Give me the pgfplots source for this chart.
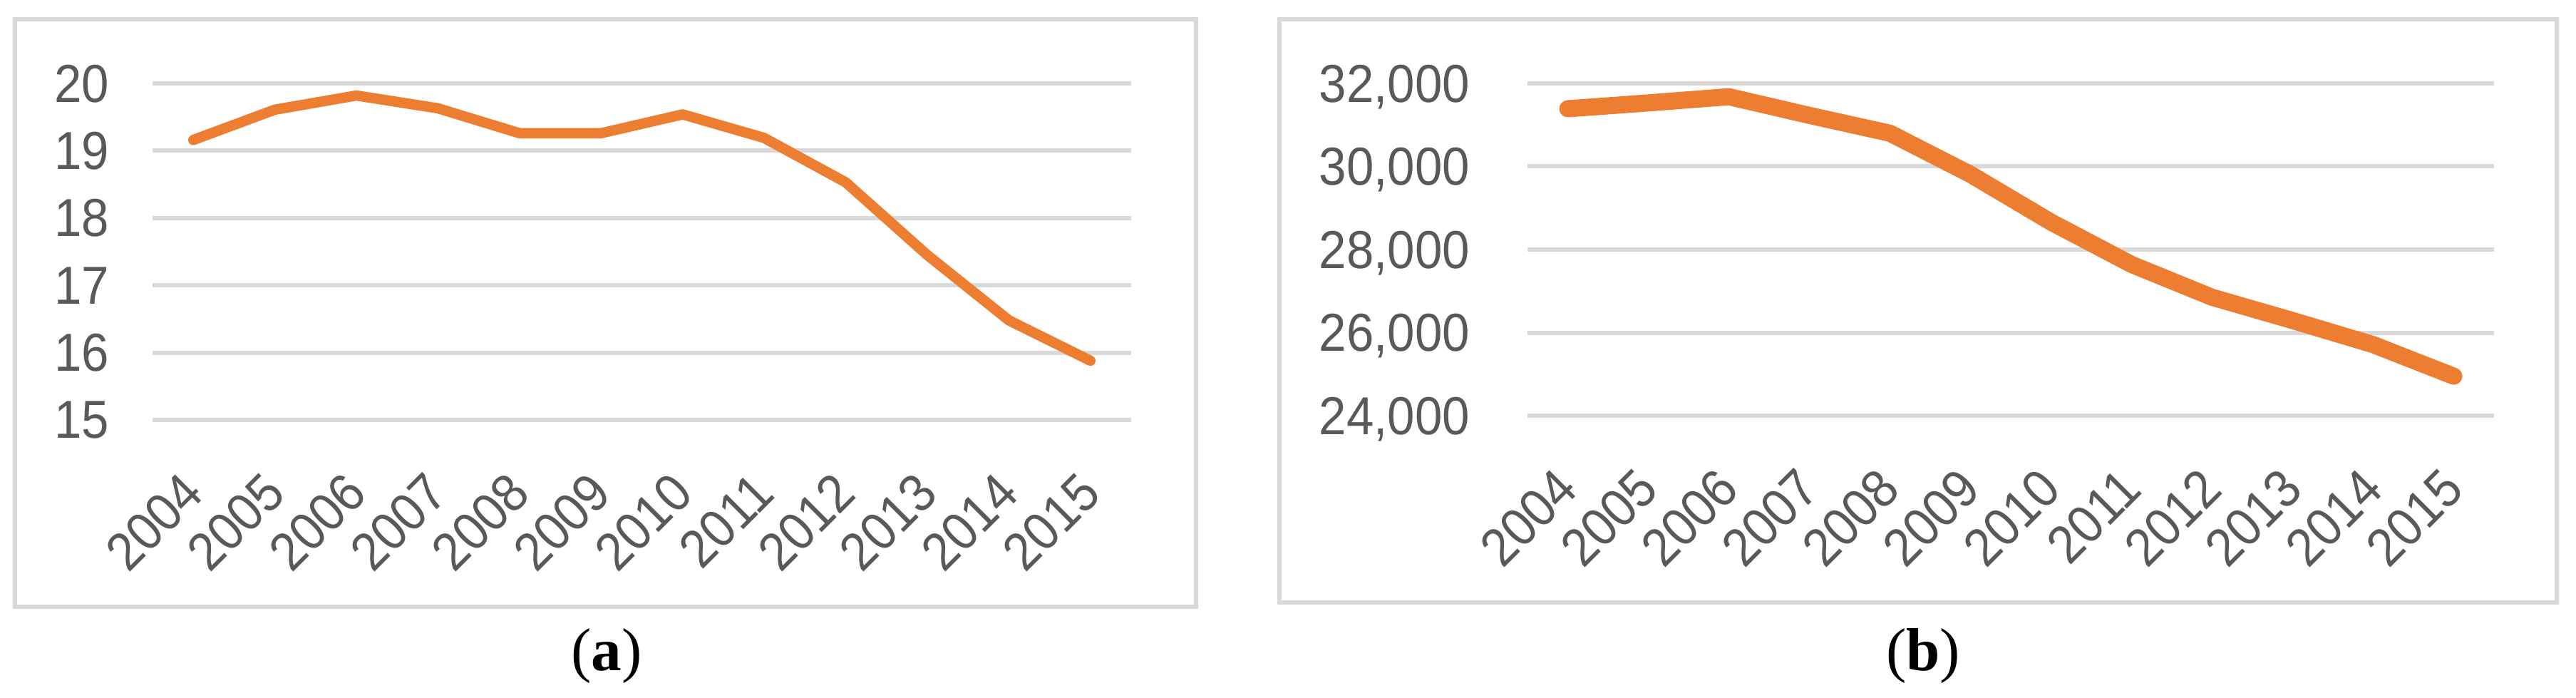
\documentclass[border=0pt]{standalone}
\usepackage{fontspec}
\setmainfont{Liberation Sans}
\newfontfamily\tickfont{Liberation Sans}[FakeStretch=0.92]
\newfontfamily\capfont{Liberation Serif}
\usepackage{pgfplots}
\pgfplotsset{compat=1.18}
\definecolor{lineor}{HTML}{ED7D31}
\definecolor{gridg}{HTML}{D9D9D9}
\definecolor{tickg}{HTML}{595959}
\pgfplotsset{
  refstyle/.style={
    scale only axis,
    anchor=south west,
    xmin=-0.5, xmax=11.5,
    xtick={0,...,11},
    xticklabels={2004,2005,2006,2007,2008,2009,2010,2011,2012,2013,2014,2015},
    axis line style={draw=none},
    major tick length=0pt,
    ymajorgrids,
    grid style={line width=1.2pt, gridg},
    clip=false,
    scaled y ticks=false,
    /pgf/number format/assume math mode=true,
    /pgf/number format/fixed,
    /pgf/number format/precision=0,
    /pgf/number format/1000 sep={,},
    tick label style={font=\tickfont\fontsize{15}{15}\selectfont, text=tickg},
    xticklabel style={inner sep=0pt, rotate=45, anchor=east},
    xticklabel shift=17.6pt,
    yticklabel style={inner sep=0pt, anchor=east, text depth=0pt},
  }
}
\begin{document}
\begin{tikzpicture}
\useasboundingbox (0,0) rectangle (722.8pt,195.6pt);
\draw[gridg, line width=1.1pt] (4.2pt,190.2pt) rectangle (335.6pt,25.4pt);
\draw[gridg, line width=1.1pt] (359pt,190.2pt) rectangle (717.4pt,26.6pt);
\begin{axis}[refstyle, at={(42.8pt,77.8pt)}, width=274.6pt, height=94.4pt,
  ymin=15, ymax=20, ytick={15,16,17,18,19,20}, yticklabel shift=12pt]
\addplot[lineor, line width=2.9pt, line cap=round, line join=round] coordinates {
(0,19.16) (1,19.61) (2,19.82) (3,19.63) (4,19.26) (5,19.26)
(6,19.54) (7,19.19) (8,18.53) (9,17.45) (10,16.48) (11,15.88)};
\end{axis}
\begin{axis}[refstyle, at={(428.6pt,79.0pt)}, width=271.2pt, height=93.2pt,
  ymin=24000, ymax=32000, ytick={24000,26000,28000,30000,32000}, yticklabel shift=16pt]
\addplot[lineor, line width=4.8pt, line cap=round, line join=round] coordinates {
(0,31390) (1,31530) (2,31680) (3,31230) (4,30800) (5,29810)
(6,28660) (7,27640) (8,26850) (9,26290) (10,25710) (11,24950)};
\end{axis}
\node[font=\capfont\fontsize{17}{17}\selectfont] at (170.2pt,11.6pt) {(\textbf{a})};
\node[font=\capfont\fontsize{17}{17}\selectfont] at (539.6pt,11.6pt) {(\textbf{b})};
\end{tikzpicture}
\end{document}
